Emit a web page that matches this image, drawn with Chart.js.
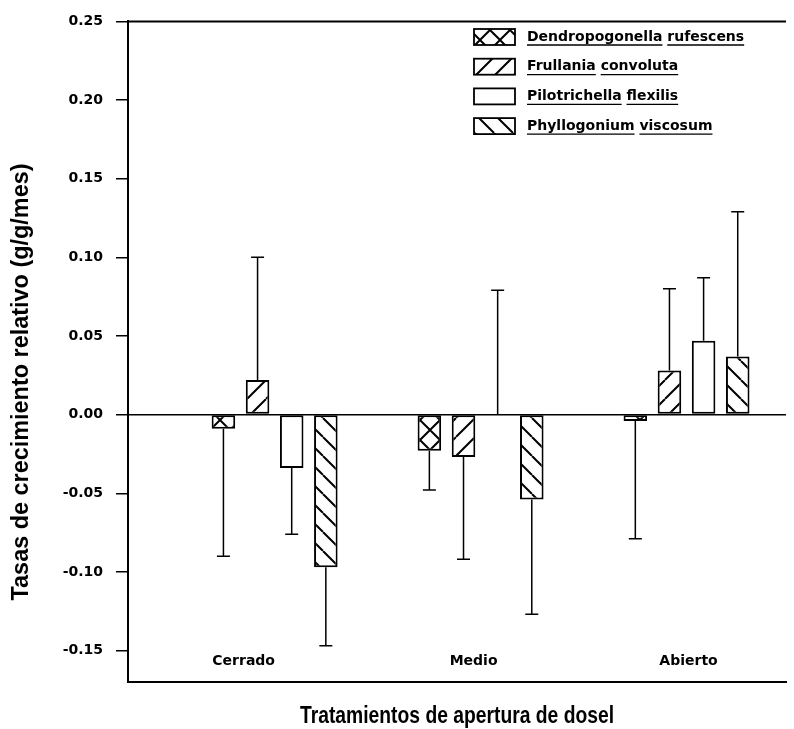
<!DOCTYPE html>
<html>
<head>
<meta charset="utf-8">
<script src="https://cdn.jsdelivr.net/npm/chart.js@4.4.1/dist/chart.umd.min.js"></script>
<style>
  html, body { margin: 0; padding: 0; background: #fff; }
  #wrap { width: 794px; height: 729px; }
</style>
</head>
<body>
<div id="wrap"><canvas id="chart" width="794" height="729"></canvas></div>
<script>
const categories = ['Cerrado', 'Medio', 'Abierto'];
const species = ['Dendropogonella rufescens', 'Frullania convoluta', 'Pilotrichella flexilis', 'Phyllogonium viscosum'];

// mean relative growth rate per canopy treatment (Cerrado, Medio, Abierto)
const dendropogonella = [-0.009, -0.023, -0.004];
const frullania = [0.022, -0.027, 0.028];
const pilotrichella = [-0.034, 0.000, 0.047];
const phyllogonium = [-0.097, -0.054, 0.037];

// one-sided error bars (drawn away from zero)
const dendropogonellaErr = [0.081, 0.025, 0.075];
const frullaniaErr = [0.078, 0.065, 0.052];
const pilotrichellaErr = [0.042, 0.079, 0.040];
const phyllogoniumErr = [0.050, 0.073, 0.092];

const yTicks = [-0.15, -0.10, -0.05, 0.00, 0.05, 0.10, 0.15, 0.20, 0.25];

const canvas = document.getElementById('chart');
const mainCtx = canvas.getContext('2d');

// hatch fills like the printed figure
function makePattern(kind) {
    const s = kind === 'cross' ? 20 : 19;
    const c = document.createElement('canvas');
    c.width = s; c.height = s;
    const g = c.getContext('2d');
    g.fillStyle = '#fff';
    g.fillRect(0, 0, s, s);
    g.strokeStyle = '#000';
    g.lineWidth = 2;
    g.beginPath();
    for (let k = -1; k <= 1; k++) {
        if (kind === 'fwd' || kind === 'cross') { g.moveTo(k * s, s); g.lineTo(k * s + s, 0); }
        if (kind === 'back' || kind === 'cross') { g.moveTo(k * s, 0); g.lineTo(k * s + s, s); }
    }
    g.stroke();
    return mainCtx.createPattern(c, 'repeat');
}

const fills = [makePattern('cross'), makePattern('fwd'), '#ffffff', makePattern('back')];
const seriesValues = [dendropogonella, frullania, pilotrichella, phyllogonium];
const seriesErrors = [dendropogonellaErr, frullaniaErr, pilotrichellaErr, phyllogoniumErr];

const labelShift = [-31, -7, 2]; // category labels sit a bit off the group centre in the original
const tickFont = { family: 'DejaVu Sans', weight: 'bold', size: 14 };
const titleFont = '"Liberation Sans", Arial, sans-serif';

// draw text squeezed to a given width, like the condensed face of the original
function fitText(ctx, text, x, y, width) {
    const w = ctx.measureText(text).width;
    ctx.save();
    ctx.translate(x, y);
    ctx.scale(width / w, 1);
    ctx.fillText(text, 0, 0);
    ctx.restore();
}

const decorations = {
    id: 'decorations',
    afterDatasetsDraw(chart) {
        const { ctx, chartArea: a, scales: { x, y } } = chart;
        ctx.save();

        // top frame line
        ctx.strokeStyle = '#000';
        ctx.lineWidth = 2;
        ctx.beginPath();
        ctx.moveTo(a.left - 1, a.top);
        ctx.lineTo(a.right, a.top);
        ctx.stroke();

        // error bars
        ctx.lineWidth = 1.5;
        chart.data.datasets.forEach((ds, di) => {
            chart.getDatasetMeta(di).data.forEach((bar, i) => {
                const v = ds.data[i].y;
                const end = v + (v < 0 ? -1 : 1) * ds.errors[i];
                const ye = y.getPixelForValue(end);
                ctx.beginPath();
                ctx.moveTo(bar.x, bar.y);
                ctx.lineTo(bar.x, ye);
                ctx.moveTo(bar.x - 6.5, ye);
                ctx.lineTo(bar.x + 6.5, ye);
                ctx.stroke();
            });
        });

        // category labels inside the plot
        ctx.fillStyle = '#000';
        ctx.font = 'bold 14px "DejaVu Sans"';
        ctx.textAlign = 'center';
        ctx.textBaseline = 'middle';
        categories.forEach((c, i) => {
            ctx.fillText(c, x.getPixelForValue(i) + labelShift[i], a.bottom - 21);
        });

        // y title
        ctx.save();
        ctx.translate(21, 382);
        ctx.rotate(-Math.PI / 2);
        ctx.font = 'bold 24px ' + titleFont;
        fitText(ctx, 'Tasas de crecimiento relativo (g/g/mes)', 0, 0, 437);
        ctx.restore();

        // x title
        ctx.font = 'bold 24px ' + titleFont;
        fitText(ctx, 'Tratamientos de apertura de dosel', (a.left + a.right) / 2, 716, 314);

        // legend
        ctx.textAlign = 'left';
        ctx.font = 'bold 14px "DejaVu Sans"';
        chart.data.datasets.forEach((ds, i) => {
            const cy = 37 + i * 29.7;
            ctx.fillStyle = ds.backgroundColor;
            ctx.fillRect(474, cy - 8, 41, 16);
            ctx.lineWidth = 1.8;
            ctx.strokeRect(474, cy - 8, 41, 16);
            ctx.fillStyle = '#000';
            ctx.fillText(ds.label, 527, cy);
            // underline each word
            let tx = 527;
            ctx.lineWidth = 1.3;
            ds.label.split(' ').forEach(w => {
                const ww = ctx.measureText(w).width;
                ctx.beginPath();
                ctx.moveTo(tx, cy + 8);
                ctx.lineTo(tx + ww, cy + 8);
                ctx.stroke();
                tx += ww + ctx.measureText(' ').width;
            });
        });

        ctx.restore();
    }
};

new Chart(canvas, {
    type: 'bar',
    data: {
        datasets: species.map((name, si) => ({
            label: name,
            data: seriesValues[si].map((v, i) => ({ x: i, y: v })),
            errors: seriesErrors[si],
            backgroundColor: fills[si],
            borderColor: '#000',
            borderWidth: 2,
            borderSkipped: false,
            categoryPercentage: 0.663,
            barPercentage: 0.69,
        })),
    },
    options: {
        responsive: false,
        animation: false,
        devicePixelRatio: 1,
        layout: { padding: { top: 14, right: 8, left: 0, bottom: 0 } },
        plugins: {
            legend: { display: false },
            tooltip: { enabled: false },
        },
        scales: {
            x: {
                type: 'linear',
                offset: false,
                min: -0.712,
                max: 2.483,
                afterBuildTicks: (scale) => { scale.ticks = categories.map((c, i) => ({ value: i })); },
                ticks: { display: false },
                grid: { display: false },
                border: { display: true, color: '#000', width: 2 },
                afterFit: (scale) => { scale.height = 47; },
            },
            y: {
                min: -0.17,
                max: 0.25,
                afterBuildTicks: (scale) => { scale.ticks = yTicks.map(v => ({ value: v })); },
                afterFit: (scale) => { scale.width = 128; },
                ticks: {
                    color: '#000',
                    font: tickFont,
                    padding: 13,
                    callback: (v) => Number(v).toFixed(2),
                },
                grid: {
                    drawOnChartArea: true,
                    color: (c) => (c.tick && c.tick.value === 0 ? '#000' : 'rgba(0,0,0,0)'),
                    lineWidth: 1.5,
                    tickColor: '#000',
                    tickLength: 12,
                },
                border: { display: true, color: '#000', width: 2 },
            },
        },
    },
    plugins: [decorations],
});
</script>
</body>
</html>
